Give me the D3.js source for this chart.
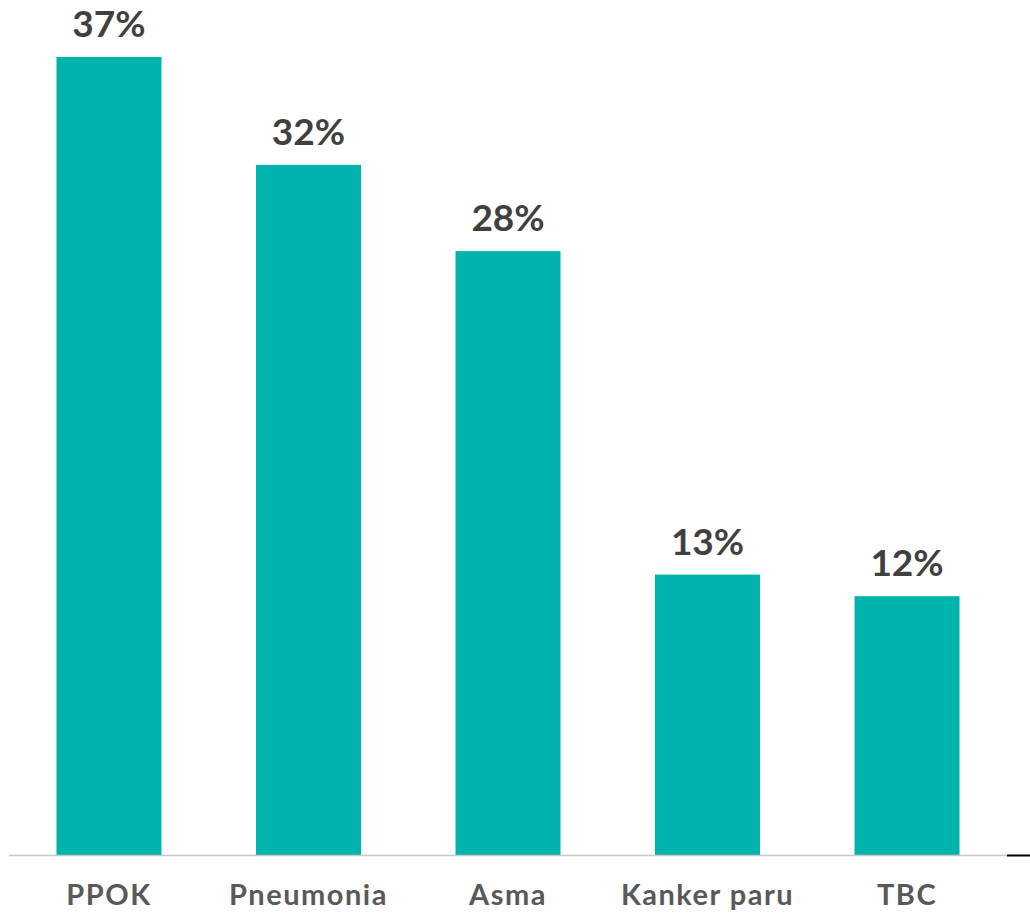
<!DOCTYPE html>
<html lang="id">
<head>
    <meta charset="UTF-8">
    <title>Penyakit paru</title>
    <script src="https://d3js.org/d3.v7.min.js"></script>
    <style>
        html, body {
            margin: 0;
            padding: 0;
            background: #ffffff;
        }
        svg {
            display: block;
        }
    </style>
</head>
<body>
    <svg id="chart"></svg>

    <script>
        const categories = ["PPOK", "Pneumonia", "Asma", "Kanker paru", "TBC"];
        const values = [37, 32, 28, 13, 12];
        const valueLabels = ["37%", "32%", "28%", "13%", "12%"];

        const width = 1030;
        const height = 915;
        const baseY = 855;

        const svg = d3.select("#chart")
            .attr("width", width)
            .attr("height", height);

        const x = d3.scaleBand()
            .domain(categories)
            .range([9, 1007])
            .paddingInner(0.4737)
            .paddingOuter(0.238);

        // 37% reaches y = 57
        const y = d3.scaleLinear()
            .domain([0, 37])
            .range([baseY, 57]);

        svg.selectAll("rect.bar")
            .data(values)
            .enter()
            .append("rect")
            .attr("class", "bar")
            .attr("x", (_, i) => x(categories[i]))
            .attr("y", d => y(d))
            .attr("width", x.bandwidth())
            .attr("height", d => baseY - y(d))
            .attr("fill", "#00b3ad");

        // value labels above bars
        svg.selectAll("text.val")
            .data(values)
            .enter()
            .append("text")
            .attr("class", "val")
            .attr("x", (_, i) => x(categories[i]) + x.bandwidth() / 2)
            .attr("y", d => y(d) - 20)
            .attr("text-anchor", "middle")
            .style("font-family", "Lato, 'Open Sans', sans-serif")
            .style("font-weight", "bold")
            .style("font-size", "37px")
            .attr("fill", "#404040")
            .text((_, i) => valueLabels[i]);

        // x axis line
        svg.append("line")
            .attr("x1", 9).attr("x2", 1007)
            .attr("y1", baseY + 0.5).attr("y2", baseY + 0.5)
            .attr("stroke", "#c8c8c8")
            .attr("stroke-width", 1.5);
        svg.append("line")
            .attr("x1", 1007).attr("x2", 1030)
            .attr("y1", baseY + 0.5).attr("y2", baseY + 0.5)
            .attr("stroke", "#000")
            .attr("stroke-width", 2);

        // category labels
        const xAxis = d3.axisBottom(x).tickSize(0).tickPadding(0);
        const gx = svg.append("g")
            .attr("transform", `translate(0, ${baseY})`)
            .call(xAxis);
        gx.select(".domain").remove();
        gx.selectAll("text")
            .attr("dy", 0)
            .attr("y", 50)
            .style("font-family", "Lato, 'Open Sans', sans-serif")
            .style("font-weight", "bold")
            .style("font-size", "29px")
            .style("letter-spacing", "1.5px")
            .attr("fill", "#595959");
    </script>
</body>
</html>
